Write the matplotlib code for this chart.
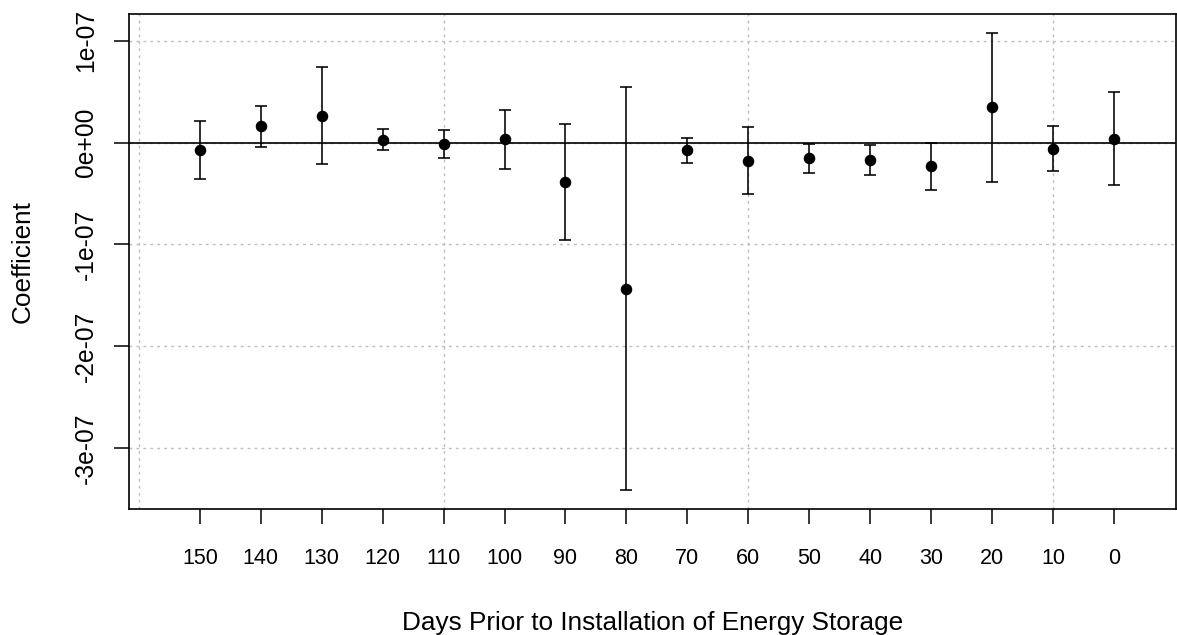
import matplotlib.pyplot as plt
import numpy as np

plt.rcParams['font.family'] = ['Liberation Sans', 'DejaVu Sans']

# days prior to installation, coefficient estimates and CI bounds (units of 1e-07)
days = [150, 140, 130, 120, 110, 100, 90, 80, 70, 60, 50, 40, 30, 20, 10, 0]
coef = [-0.072, 0.164, 0.265, 0.030, -0.016, 0.036, -0.389, -1.437,
        -0.072, -0.177, -0.150, -0.170, -0.232, 0.348, -0.059, 0.039]
upper = [0.216, 0.363, 0.744, 0.138, 0.122, 0.324, 0.184, 0.544,
         0.049, 0.154, -0.010, -0.023, -0.006, 1.078, 0.161, 0.495]
lower = [-0.357, -0.039, -0.212, -0.075, -0.150, -0.255, -0.956, -3.410,
         -0.196, -0.507, -0.295, -0.317, -0.465, -0.386, -0.275, -0.416]

scale = 1e-07
coef = np.array(coef) * scale
upper = np.array(upper) * scale
lower = np.array(lower) * scale
idx = np.arange(1, len(days) + 1)

fig = plt.figure(figsize=(11.77, 6.35), dpi=100)
ax = fig.add_axes([129 / 1177, 1 - 509 / 635, (1176 - 129) / 1177, (509 - 14) / 635])

# grid like R's grid()
for gx in [0, 5, 10, 15]:
    ax.axvline(gx, color='#bebebe', linestyle=(0, (2, 3)), linewidth=1, zorder=0)
for gy in [-3e-07, -2e-07, -1e-07, 0, 1e-07]:
    ax.axhline(gy, color='#bebebe', linestyle=(0, (2, 3)), linewidth=1, zorder=0)
ax.axhline(0, color='black', linewidth=1.2, zorder=1)

ax.errorbar(idx, coef, yerr=[coef - lower, upper - coef], fmt='o', color='black',
            markersize=7.3, elinewidth=1.15, capsize=4.1, capthick=1.15, zorder=3)

ax.set_xlim(-0.164, 17.02)
ax.set_ylim(-3.598e-07, 1.264e-07)

ax.set_xticks(idx)
ax.set_xticklabels([str(d) for d in days])
yt = [-3e-07, -2e-07, -1e-07, 0, 1e-07]
ax.set_yticks(yt)
ax.set_yticklabels(['-3e-07', '-2e-07', '-1e-07', '0e+00', '1e-07'], rotation=90, va='center')

ax.tick_params(axis='both', direction='out', length=10.5, width=1.1)
ax.tick_params(axis='x', labelsize=15.5, pad=17.5)
ax.tick_params(axis='y', labelsize=17.7, pad=12)
for s in ax.spines.values():
    s.set_linewidth(1.2)

ax.set_xlabel('Days Prior to Installation of Energy Storage', fontsize=18.8, labelpad=30)
ax.set_ylabel('Coefficient', fontsize=18.8, labelpad=28)

fig.savefig('out.png', dpi=100)
